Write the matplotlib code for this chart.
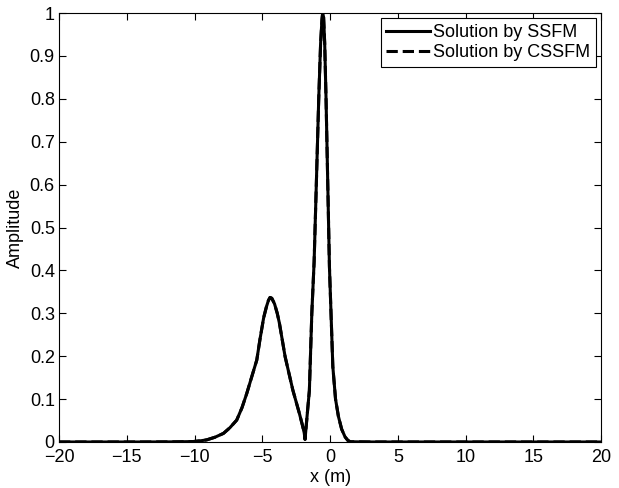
import numpy as np
import matplotlib.pyplot as plt

plt.rcParams['font.family'] = ['Liberation Sans', 'DejaVu Sans']

# Amplitude profile
x = [-20, -14, -12, -11, -10.1, -9.5, -9.1, -8.5, -7.87, -7.4, -6.89, -6.5, -6.15,
     -5.8, -5.41, -5.17, -4.9, -4.7, -4.55, -4.43, -4.3, -4.1, -3.9, -3.74, -3.32,
     -2.75, -2.27, -2.05, -1.9, -1.85, -1.7, -1.53, -1.35, -1.18, -1.0, -0.84,
     -0.7, -0.6, -0.55, -0.48, -0.4, -0.3, -0.05, 0.2, 0.4, 0.61, 0.85, 1.1,
     1.3, 1.48, 3, 10, 20]
y_ssfm = [0, 0, 0.0002, 0.0005, 0.001, 0.003, 0.005, 0.011, 0.02, 0.033, 0.051,
          0.08, 0.113, 0.15, 0.191, 0.24, 0.29, 0.315, 0.33, 0.337, 0.335, 0.322,
          0.3, 0.277, 0.199, 0.121, 0.067, 0.04, 0.02, 0.006, 0.06, 0.12, 0.3,
          0.42, 0.62, 0.8, 0.93, 0.985, 1.0, 0.99, 0.93, 0.8, 0.409, 0.176, 0.1,
          0.06, 0.03, 0.012, 0.004, 0.0005, 0, 0, 0]
y_cssfm = list(y_ssfm)

fig = plt.figure(figsize=(6.19, 4.88), dpi=100)
ax = fig.add_axes([0.0953, 0.0943, 0.876, 0.879])

ax.plot(x, y_ssfm, color='black', lw=2.2, label='Solution by SSFM')
ax.plot(x, y_cssfm, color='black', lw=2.2, ls='--', label='Solution by CSSFM')

ax.set_xlim(-20, 20)
ax.set_ylim(0, 1)
ax.set_xticks(np.arange(-20, 21, 5))
ax.set_yticks(np.arange(0, 1.01, 0.1))
ax.set_yticklabels(['0', '0.1', '0.2', '0.3', '0.4', '0.5', '0.6', '0.7', '0.8', '0.9', '1'])
ax.tick_params(direction='in', top=True, right=True, labelsize=13, length=5)
ax.tick_params(axis='x', pad=5)
ax.tick_params(axis='y', pad=3)
ax.set_xlabel('x (m)', fontsize=13, labelpad=2)
ax.set_ylabel('Amplitude', fontsize=13, labelpad=4)

leg = ax.legend(loc='upper right', fontsize=13, fancybox=False, framealpha=1,
                edgecolor='black', borderaxespad=0.3, handlelength=2.4,
                borderpad=0.3, labelspacing=0.2, handletextpad=0.2)
leg.get_frame().set_linewidth(0.8)

fig.savefig('out.png', dpi=100)
